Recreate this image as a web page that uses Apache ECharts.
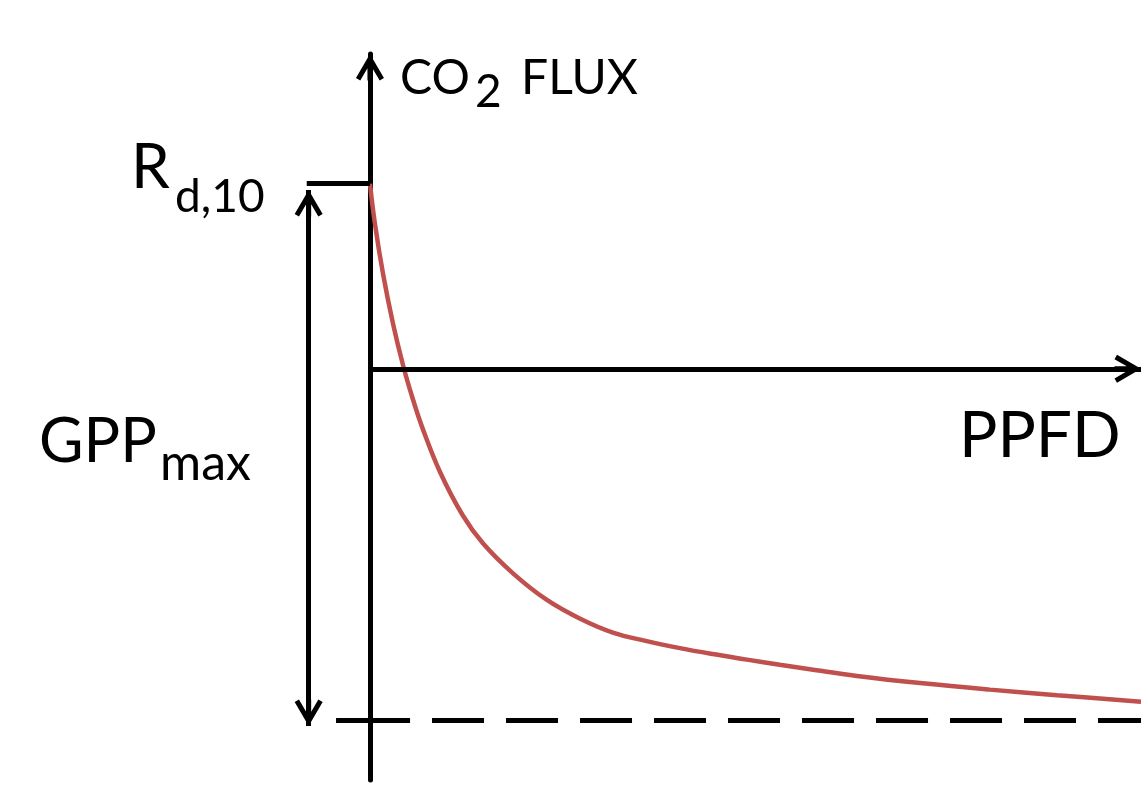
<!DOCTYPE html>
<html>
<head>
<meta charset="utf-8">
<script src="https://cdn.jsdelivr.net/npm/echarts@6/dist/echarts.min.js"></script>
<style>
  html, body { margin: 0; padding: 0; background: #ffffff; }
  #chart { width: 1141px; height: 791px; }
</style>
</head>
<body>
<div id="chart"></div>
<script>
// ---- data (arbitrary flux units) ----
const ppfd    = [0, 13, 34, 60, 86, 109, 137, 182, 241, 293, 371, 459, 544, 630, 718, 804, 889, 978, 1063, 1141, 1263, 1434, 1608, 1782, 2000];
const co2Flux = [5.0, 3.91, 2.56, 1.21, 0.09, -0.74, -1.62, -2.79, -3.96, -4.71, -5.52, -6.24, -6.74, -7.12, -7.35, -7.54, -7.70, -7.85, -7.99, -8.11, -8.29, -8.49, -8.66, -8.81, -8.99];
const rdLevel  = 5.0;    // R_d,10 level (flux at PPFD = 0)
const gppFloor = -9.5;   // asymptote level (R_d,10 - GPP_max)
const xRange = [-300, 2000];
const yRange = [-11.1, 8.5];
const labelCO2 = 'CO', labelCO2Sub = '2', labelFlux = 'FLUX';
const labelRd = 'R', labelRdSub = 'd,10';
const labelGPP = 'GPP', labelGPPSub = 'max';
const labelPPFD = 'PPFD';

// ---- styles ----
const CHEV = 'path://M14,0 L28,24 L23.7,26.5 L16.5,14.2 L16.5,26.5 L11.5,26.5 L11.5,14.2 L4.3,26.5 L0,24 Z';
const CHEV_SIZE = [28, 26.5];
const CHEV_OFF = 13.25;
const BLACK = '#000000';
const RED = '#C0504D';
const LW = 5;

const chart = echarts.init(document.getElementById('chart'), null, { renderer: 'canvas' });

function txt(text, x, y, size) {
  return {
    type: 'text', x: x, y: y, silent: true,
    style: { text: text, fill: BLACK, font: size + 'px Lato', align: 'left', verticalAlign: 'middle' }
  };
}
function solid() { return { color: BLACK, width: LW, type: 'solid' }; }

const option = {
  animation: false,
  backgroundColor: '#ffffff',
  grid: { left: 254.3, right: 0, top: 54, bottom: 11, containLabel: false },
  xAxis: {
    type: 'value', min: xRange[0], max: xRange[1],
    axisLine: { show: false }, axisTick: { show: false }, axisLabel: { show: false }, splitLine: { show: false }
  },
  yAxis: {
    type: 'value', min: yRange[0], max: yRange[1],
    axisLine: {
      show: true, onZero: true,
      symbol: ['none', CHEV], symbolSize: CHEV_SIZE, symbolOffset: [0, -CHEV_OFF],
      lineStyle: { color: BLACK, width: LW }
    },
    axisTick: { show: false }, axisLabel: { show: false }, splitLine: { show: false }
  },
  series: [{
    type: 'line',
    data: ppfd.map((x, i) => [x, co2Flux[i]]),
    smooth: 0.4,
    showSymbol: false,
    silent: true,
    lineStyle: { color: RED, width: 4.5 },
    z: 3,
    markLine: {
      silent: true,
      animation: false,
      symbol: ['none', 'none'],
      label: { show: false },
      emphasis: { disabled: true },
      data: [
        // horizontal PPFD axis with arrow
        [
          { coord: [0, 0], symbol: 'none' },
          { coord: [xRange[1], 0], symbol: CHEV, symbolSize: CHEV_SIZE, symbolOffset: [0, CHEV_OFF], lineStyle: solid() }
        ],
        // asymptote line: long first dash across the axis, then dashes
        [
          { coord: [-88, gppFloor], symbol: 'none' },
          { coord: [104, gppFloor], symbol: 'none', lineStyle: solid() }
        ],
        [
          { coord: [161, gppFloor], symbol: 'none' },
          { coord: [xRange[1], gppFloor], symbol: 'none', lineStyle: { color: BLACK, width: LW, type: [52, 22] } }
        ],
        // R_d,10 tick
        [
          { coord: [-164, rdLevel], symbol: 'none' },
          { coord: [0, rdLevel], symbol: 'none', lineStyle: solid() }
        ],
        // GPP_max double arrow
        [
          { coord: [-159, rdLevel - 0.17], symbol: CHEV, symbolSize: CHEV_SIZE, symbolOffset: [0, CHEV_OFF] },
          { coord: [-159, gppFloor - 0.14], symbol: CHEV, symbolSize: CHEV_SIZE, symbolOffset: [0, CHEV_OFF], lineStyle: solid() }
        ]
      ]
    }
  }],
  graphic: [
    txt(labelCO2, 400, 79, 48),
    txt(labelCO2Sub, 475, 92, 46),
    txt(labelFlux, 521, 79, 48),
    txt(labelRd, 131, 168, 62),
    txt(labelRdSub, 175, 197, 46),
    txt(labelGPP, 39, 442, 61),
    txt(labelGPPSub, 160, 464, 50),
    txt(labelPPFD, 959, 436, 64)
  ]
};
chart.setOption(option);
</script>
</body>
</html>
